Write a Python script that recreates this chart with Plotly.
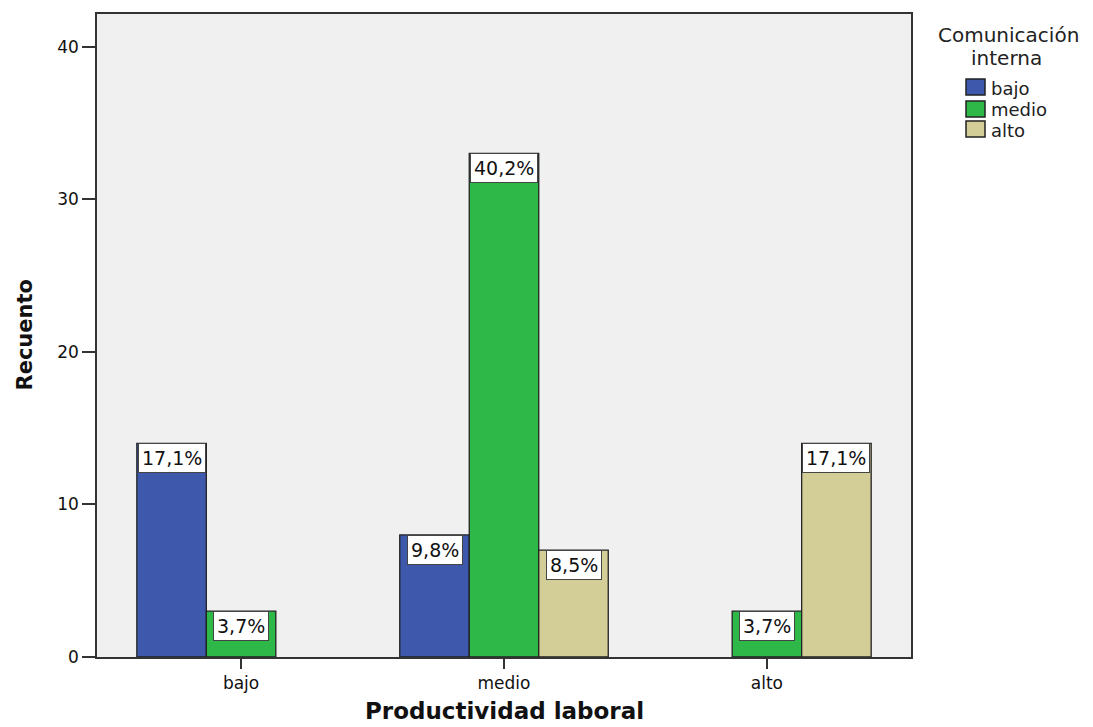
import plotly.graph_objects as go

# ---- data ----
categories = ["bajo", "medio", "alto"]
series_names = ["bajo", "medio", "alto"]
counts_bajo = [14, 8, 0]
counts_medio = [3, 33, 3]
counts_alto = [0, 7, 14]
series_colors = ["#3E58AC", "#2EB848", "#D3CE97"]
y_ticks = [0, 10, 20, 30, 40]

series_values = [counts_bajo, counts_medio, counts_alto]
total = sum(sum(s) for s in series_values)

W, H = 1093, 727
ML, MR, MT, MB = 97, 182, 14, 70
PW, PH = W - ML - MR, H - MT - MB
BARGAP = 0.207
FONT = "DejaVu Sans"


def px(xp):
    return (xp - ML) / PW


def py(yp):
    return (H - MB - yp) / PH


fig = go.Figure()
xs = list(range(len(categories)))
for name, vals, col in zip(series_names, series_values, series_colors):
    fig.add_trace(go.Bar(
        x=xs, y=vals, name=name,
        marker=dict(color=col,
                    line=dict(color="#222222",
                              width=[1.3 if v > 0 else 0 for v in vals])),
        showlegend=False,
    ))

annotations = []
nser = len(series_values)
w = (1 - BARGAP) / nser
for j, vals in enumerate(series_values):
    for i, v in enumerate(vals):
        if v <= 0:
            continue
        pct = f"{100 * v / total:.1f}%".replace(".", ",")
        annotations.append(dict(
            x=i + (j - (nser - 1) / 2) * w, y=v, xref="x", yref="y",
            text=pct, showarrow=False, yanchor="top", xanchor="center",
            font=dict(family=FONT, size=19, color="#111111"),
            bgcolor="white", bordercolor="#444444", borderwidth=1, borderpad=3,
        ))

# axis titles
annotations.append(dict(
    x=px(24), y=0.5, xref="paper", yref="paper", text="<b>Recuento</b>",
    textangle=-90, showarrow=False, xanchor="center", yanchor="middle",
    font=dict(family=FONT, size=21, color="#111111"),
))
annotations.append(dict(
    x=0.5, y=py(711), xref="paper", yref="paper", text="<b>Productividad laboral</b>",
    showarrow=False, xanchor="center", yanchor="middle",
    font=dict(family=FONT, size=23, color="#111111"),
))

# manual legend
annotations.append(dict(
    x=px(1008), y=py(35), xref="paper", yref="paper", text="Comunicación",
    showarrow=False, xanchor="center", yanchor="middle",
    font=dict(family=FONT, size=20, color="#222222"),
))
annotations.append(dict(
    x=px(1006), y=py(58), xref="paper", yref="paper", text="interna",
    showarrow=False, xanchor="center", yanchor="middle",
    font=dict(family=FONT, size=20, color="#222222"),
))
shapes = []
legend_centers = [87, 109, 129]
for name, col, yc in zip(series_names, series_colors, legend_centers):
    shapes.append(dict(
        type="rect", xref="paper", yref="paper",
        x0=px(966), x1=px(985), y0=py(yc + 8), y1=py(yc - 8),
        fillcolor=col, line=dict(color="#222222", width=1.5),
    ))
    annotations.append(dict(
        x=px(989), y=py(yc + 1), xref="paper", yref="paper", text=name,
        showarrow=False, xanchor="left", yanchor="middle",
        font=dict(family=FONT, size=18, color="#222222"),
    ))

fig.update_layout(
    width=W, height=H,
    margin=dict(l=ML, r=MR, t=MT, b=MB, pad=0),
    paper_bgcolor="white", plot_bgcolor="#F0F0F0",
    barmode="group", bargap=BARGAP, bargroupgap=0,
    annotations=annotations, shapes=shapes,
    showlegend=False,
    font=dict(family=FONT, color="#222222"),
)
fig.update_xaxes(
    range=[-0.548, 2.548], tickvals=xs, ticktext=categories,
    showgrid=False, zeroline=False,
    showline=True, mirror=True, linecolor="#333333", linewidth=1.5,
    ticks="outside", ticklen=10, tickwidth=1.5, tickcolor="#333333",
    tickfont=dict(family=FONT, size=17, color="#111111"),
)
fig.update_yaxes(
    range=[0, 42.14], tickvals=y_ticks,
    showgrid=False, zeroline=False,
    showline=True, mirror=True, linecolor="#333333", linewidth=1.5,
    ticks="outside", ticklen=13, tickwidth=1.5, tickcolor="#333333",
    tickfont=dict(family=FONT, size=17, color="#111111"),
)

fig.write_html("out.html")
